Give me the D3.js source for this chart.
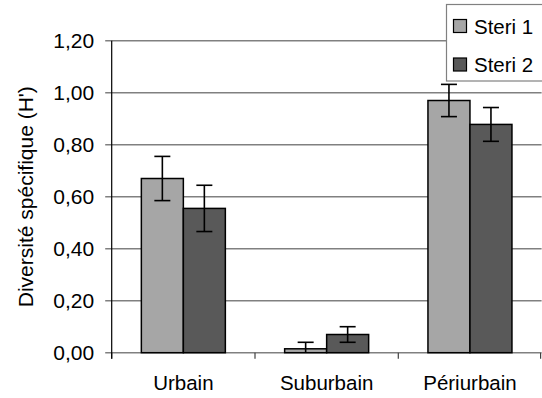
<!DOCTYPE html>
<html>
<head>
<meta charset="utf-8">
<script src="https://cdn.jsdelivr.net/npm/d3@7"></script>
<style>
  html, body { margin: 0; padding: 0; background: #fff; }
  svg { display: block; }
  text { font-family: "Liberation Sans", Arial, sans-serif; fill: #000; }
</style>
</head>
<body>
<svg id="chart" width="542" height="398"></svg>
<script>
// Shannon diversity (H') per site type and sampling campaign
const categories = ["Urbain", "Suburbain", "Périurbain"];
const seriesNames = ["Steri 1", "Steri 2"];
const steri1 = [0.670, 0.015, 0.970];
const steri2 = [0.555, 0.070, 0.878];
const steri1Err = [0.085, 0.025, 0.062];
const steri2Err = [0.089, 0.030, 0.065];
const yTickValues = [0, 0.2, 0.4, 0.6, 0.8, 1.0, 1.2];
const yTitle = "Diversité spécifique (H')";

const seriesColors = ["#a6a6a6", "#595959"];
const values = [steri1, steri2];
const errors = [steri1Err, steri2Err];

const svg = d3.select("#chart");
const fontSize = 20.5;

const plot = { left: 111.7, right: 541.6, top: 40.7, bottom: 352.7 };

const x = d3.scaleBand().domain(categories).range([plot.left, plot.right]).padding(0);
const xs = d3.scaleBand().domain(seriesNames).range([0, x.bandwidth()])
  .paddingInner(0).paddingOuter(0.706);
const y = d3.scaleLinear().domain([0, 1.2]).range([plot.bottom, plot.top]);

const frLocale = d3.formatLocale({ decimal: ",", thousands: " ", grouping: [3], currency: ["", " €"] });
const fmt = frLocale.format(".2f");

// Horizontal gridlines (extend left into the tick marks)
svg.append("g").selectAll("line").data(yTickValues).join("line")
  .attr("x1", plot.left - 6.5).attr("x2", plot.right)
  .attr("y1", d => y(d)).attr("y2", d => y(d))
  .attr("stroke", "#808080").attr("stroke-width", 1.5);

// Y axis labels
const yAxis = d3.axisLeft(y).tickValues(yTickValues).tickFormat(fmt).tickSize(0).tickPadding(17.5);
const gy = svg.append("g").attr("transform", `translate(${plot.left},0)`).call(yAxis);
gy.attr("font-size", null).attr("font-family", null);
gy.select(".domain").remove();
gy.selectAll("text").style("font-size", "21px");

// Category tick marks along the baseline
const boundaries = [plot.left, ...categories.slice(1).map(c => x(c)), plot.right - 1];
svg.append("g").selectAll("line").data(boundaries).join("line")
  .attr("x1", d => d).attr("x2", d => d)
  .attr("y1", plot.bottom).attr("y2", plot.bottom + 6)
  .attr("stroke", "#404040").attr("stroke-width", 1.2);

// Vertical axis line
svg.append("line")
  .attr("x1", plot.left).attr("x2", plot.left)
  .attr("y1", plot.top).attr("y2", plot.bottom + 6)
  .attr("stroke", "#000").attr("stroke-width", 1.2);

// Bars
seriesNames.forEach((s, si) => {
  svg.append("g").selectAll("rect").data(categories).join("rect")
    .attr("x", c => x(c) + xs(s))
    .attr("width", xs.bandwidth())
    .attr("y", (c, i) => y(values[si][i]))
    .attr("height", (c, i) => y(0) - y(values[si][i]))
    .attr("fill", seriesColors[si])
    .attr("stroke", "#000").attr("stroke-width", 1.5);
});

// Error bars (clamped at zero)
seriesNames.forEach((s, si) => {
  const g = svg.append("g").attr("stroke", "#000").attr("stroke-width", 1.6);
  categories.forEach((c, i) => {
    const cx = x(c) + xs(s) + xs.bandwidth() / 2;
    const v = values[si][i], e = errors[si][i];
    const hi = v + e, lo = Math.max(0, v - e);
    g.append("line").attr("x1", cx).attr("x2", cx).attr("y1", y(hi)).attr("y2", y(lo));
    g.append("line").attr("x1", cx - 8).attr("x2", cx + 8).attr("y1", y(hi)).attr("y2", y(hi));
    if (v - e >= 0) {
      g.append("line").attr("x1", cx - 8).attr("x2", cx + 8).attr("y1", y(lo)).attr("y2", y(lo));
    }
  });
});

// Category labels
svg.append("g").selectAll("text").data(categories).join("text")
  .attr("x", c => x(c) + x.bandwidth() / 2)
  .attr("y", 390)
  .attr("text-anchor", "middle")
  .style("font-size", fontSize + "px")
  .text(c => c);

// Y axis title
svg.append("text")
  .attr("transform", `translate(33,${(plot.top + plot.bottom) / 2}) rotate(-90)`)
  .attr("text-anchor", "middle")
  .style("font-size", "21px")
  .text(yTitle);

// Legend
const legend = svg.append("g");
legend.append("rect")
  .attr("x", 446.5).attr("y", 4.5).attr("width", 110).attr("height", 76.5)
  .attr("fill", "#fff").attr("stroke", "#808080").attr("stroke-width", 1.2);
seriesNames.forEach((s, si) => {
  const cy = 26 + si * 38.5;
  legend.append("rect")
    .attr("x", 453.5).attr("y", cy - 6.5).attr("width", 13).attr("height", 13)
    .attr("fill", seriesColors[si]).attr("stroke", "#000").attr("stroke-width", 1.2);
  legend.append("text")
    .attr("x", 474).attr("y", cy + 7.5)
    .style("font-size", fontSize + "px")
    .text(s);
});
</script>
</body>
</html>
